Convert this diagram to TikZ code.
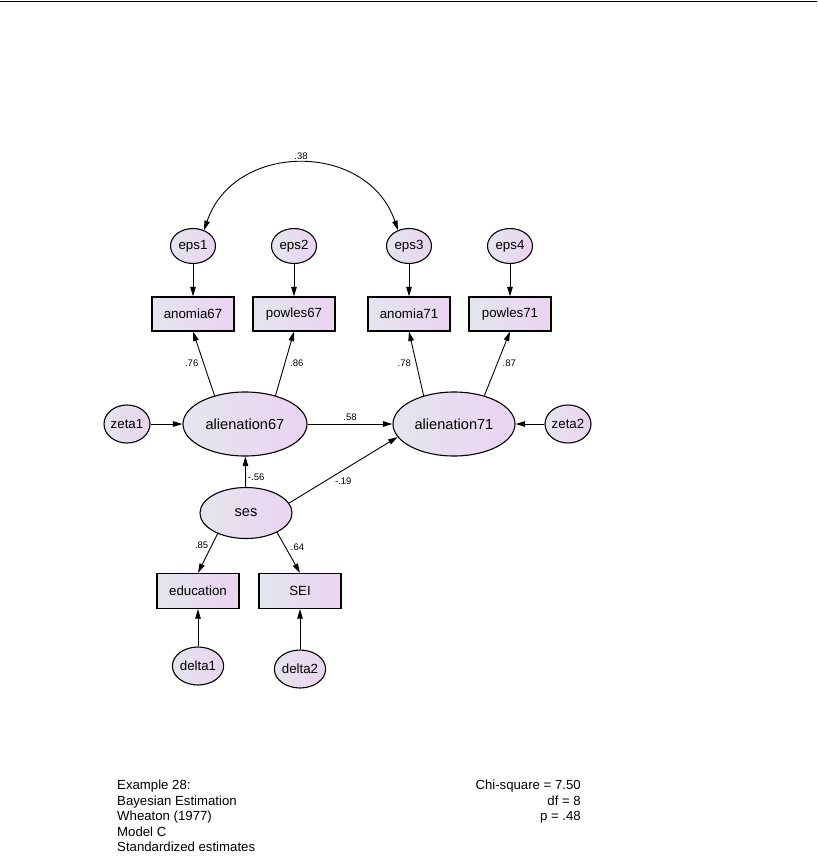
\documentclass[tikz,border=0pt]{standalone}
\usepackage{fontspec}
\setmainfont{Liberation Sans}
\usetikzlibrary{arrows.meta, shapes.geometric, positioning}
\definecolor{AMOSgrey}{HTML}{E3E6EE}
\definecolor{AMOSpink}{HTML}{EBD3F1}

\begin{document}
\begin{tikzpicture}[x=1pt, y=-1pt,
    latent/.style={ellipse, draw, line width=1.1pt,
      left color=AMOSgrey, right color=AMOSpink, inner sep=0pt,
      minimum width=124pt, minimum height=64pt,
      font=\fontsize{14.6}{16}\selectfont},
    errvar/.style={latent, minimum width=45pt, minimum height=35pt,
      font=\fontsize{13.3}{15}\selectfont},
    observed/.style={rectangle, draw, line width=1.2pt,
      left color=AMOSgrey, right color=AMOSpink, inner sep=0pt,
      minimum width=82pt, minimum height=34pt,
      font=\fontsize{13.3}{15}\selectfont},
    regarrow/.style={-{Triangle[length=9.5pt, width=5.5pt]}, line width=0.9pt},
    covarrow/.style={{Triangle[length=9.5pt, width=5.5pt]}-{Triangle[length=9.5pt, width=5.5pt]}, line width=0.9pt},
    weight/.style={font=\fontsize{9.5}{11}\selectfont, inner sep=1pt},
    notes/.style={inner sep=0pt, font=\fontsize{13.2}{15.5}\selectfont}
  ]
    \useasboundingbox (0,0) rectangle (817,862);
    \draw[line width=1.5pt] (0,1.5) -- (817,1.5);

    \node[errvar] (eps1) at (193,246) {eps1};
    \node[errvar] (eps2) at (294,246) {eps2};
    \node[errvar] (eps3) at (409,246) {eps3};
    \node[errvar] (eps4) at (510,246) {eps4};

    \node[observed] (anomia67) at (193,314) {anomia67};
    \node[observed] (powles67) at (294,314) {powles67};
    \node[observed] (anomia71) at (409,314) {anomia71};
    \node[observed] (powles71) at (510,314) {powles71};

    \node[latent] (alien67) at (245,424) {alienation67};
    \node[latent, minimum width=122pt] (alien71) at (454,424) {alienation71};
    \node[errvar, minimum height=38pt] (zeta1) at (127,424) {zeta1};
    \node[errvar, minimum height=38pt] (zeta2) at (568,424) {zeta2};

    \node[latent, minimum width=92pt, minimum height=51pt] (ses) at (246,513) {ses};
    \node[observed, minimum height=35pt] (education) at (198,591) {education};
    \node[observed, minimum height=35pt] (SEI) at (300,591) {SEI};
    \node[errvar, minimum height=38pt] (delta1) at (198,666) {delta1};
    \node[errvar, minimum height=38pt] (delta2) at (300,669) {delta2};

    \draw[covarrow] (eps1.55) .. controls +(30,-89) and +(-30,-89) .. (eps3.125)
      node[weight, midway, above=2pt] (w38) {.38};

    \draw[regarrow] (eps1) -- (anomia67);
    \draw[regarrow] (eps2) -- (powles67);
    \draw[regarrow] (eps3) -- (anomia71);
    \draw[regarrow] (eps4) -- (powles71);

    \draw[regarrow] (alien67.137) -- (anomia67.south)
      node[weight, midway, left=4pt] (w76) {.76};
    \draw[regarrow] (alien67.43) -- (powles67.south)
      node[weight, midway, right=4pt] (w86) {.86};
    \draw[regarrow] (alien71.137) -- (anomia71.south)
      node[weight, midway, left=4pt] (w78) {.78};
    \draw[regarrow] (alien71.43) -- (powles71.south)
      node[weight, midway, right=4pt] (w87) {.87};

    \draw[regarrow] (zeta1) -- (alien67);
    \draw[regarrow] (zeta2) -- (alien71);
    \draw[regarrow] (alien67) -- (alien71)
      node[weight, midway, above=2pt] (w58) {.58};
    \draw[regarrow] (ses) -- (alien67)
      node[weight, midway, right=1pt, yshift=-5pt] (w56) {-.56};
    \draw[regarrow] (ses.13) -- (alien71.193)
      node[weight, midway, below=6pt] (w19) {-.19};

    \draw[regarrow] (ses.216) -- (education.north)
      node[weight, pos=0.3, left=2pt] (w85) {.85};
    \draw[regarrow] (ses.328) -- (SEI.north)
      node[weight, pos=0.37, right=4pt] (w64) {.64};
    \draw[regarrow] (delta1) -- (education);
    \draw[regarrow] (delta2) -- (SEI);

    \node[notes, anchor=north west, align=left] (title) at (117,780)
      {Example 28:\\Bayesian Estimation\\Wheaton (1977)\\Model C\\Standardized estimates};
    \node[notes, anchor=north east, align=right] (fit) at (581,780)
      {Chi-square = 7.50\\df = 8\\p = .48};
  \end{tikzpicture}
\end{document}
